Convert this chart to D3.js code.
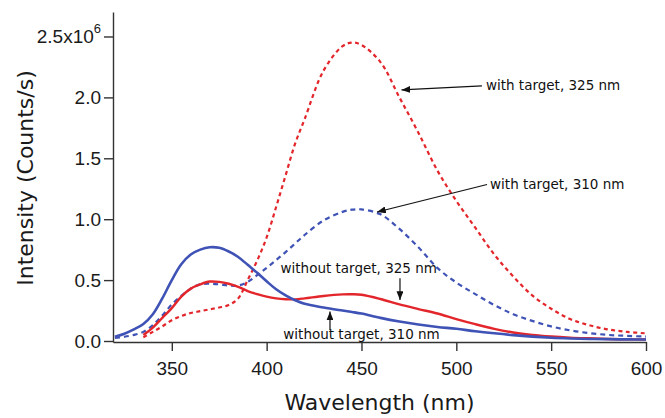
<!DOCTYPE html>
<html>
<head>
<meta charset="utf-8">
<script src="https://cdn.jsdelivr.net/npm/d3@7"></script>
<style>
  body { margin: 0; background: #fff; }
  svg { display: block; font-family: "DejaVu Sans", sans-serif; }
</style>
</head>
<body>
<script>
// wavelength grid (nm) shared by all four spectra
let wavelengths = [320, 325, 330, 335, 340, 345, 350, 355, 360, 365, 370, 375, 380, 385, 390, 395, 400, 405, 410, 415, 420, 430, 440, 445, 450, 460, 470, 480, 490, 500, 510, 520, 530, 540, 550, 560, 570, 580, 590, 600];

// intensities in units of 1e6 counts/s, null where the scan does not cover
let noTarget310 = [0.035, 0.06, 0.095, 0.14, 0.22, 0.35, 0.5, 0.63, 0.71, 0.75, 0.77, 0.765, 0.735, 0.69, 0.625, 0.56, 0.49, 0.425, 0.375, 0.335, 0.305, 0.275, 0.25, 0.238, 0.225, 0.19, 0.16, 0.135, 0.115, 0.1, 0.08, 0.063, 0.048, 0.036, 0.027, 0.021, 0.017, 0.015, 0.013, 0.012];
let withTarget310 = [0.025, 0.035, 0.05, 0.075, 0.13, 0.21, 0.3, 0.37, 0.43, 0.465, 0.47, 0.465, 0.455, 0.455, 0.485, 0.54, 0.6, 0.665, 0.73, 0.8, 0.87, 0.99, 1.06, 1.078, 1.08, 1.04, 0.92, 0.77, 0.6, 0.48, 0.385, 0.295, 0.22, 0.165, 0.12, 0.087, 0.065, 0.05, 0.042, 0.036];
let noTarget325 = [null, null, null, 0.05, 0.11, 0.19, 0.27, 0.365, 0.43, 0.465, 0.488, 0.485, 0.47, 0.445, 0.41, 0.385, 0.364, 0.35, 0.343, 0.342, 0.35, 0.37, 0.383, 0.384, 0.38, 0.345, 0.3, 0.262, 0.226, 0.18, 0.138, 0.1, 0.07, 0.05, 0.037, 0.028, 0.022, 0.017, 0.014, 0.012];
let withTarget325 = [null, null, null, 0.03, 0.075, 0.12, 0.17, 0.205, 0.23, 0.245, 0.26, 0.275, 0.295, 0.35, 0.5, 0.66, 0.85, 1.1, 1.36, 1.62, 1.82, 2.22, 2.42, 2.45, 2.43, 2.29, 2.0, 1.71, 1.4, 1.15, 0.93, 0.71, 0.53, 0.375, 0.265, 0.18, 0.13, 0.095, 0.075, 0.063];

let xTicks = [350, 400, 450, 500, 550, 600];
let yTicks = [0, 0.5, 1.0, 1.5, 2.0, 2.5];

// annotation texts, anchored in data units (nm, 1e6 counts/s)
let labels = ["with target, 325 nm", "with target, 310 nm", "without target, 325 nm", "without target, 310 nm"];
let labelAt = [[515.6, 2.06], [517.8, 1.25], [407.3, 0.56], [408.8, 0.016]];
let arrowFrom = [[513.5, 2.094], [516.2, 1.285], [470.3, 0.515], [433.4, 0.09]];
let arrowTo = [[471.1, 2.061], [458.2, 1.059], [470.3, 0.337], [433.4, 0.242]];

function main() {
    let svg = d3.select("body").append("svg")
        .attr("width", 665)
        .attr("height", 418);

    let x = d3.scaleLinear().domain([319, 600]).range([113, 646]);
    let y = d3.scaleLinear().domain([-0.0082, 2.701]).range([342, 12]);

    svg.append("defs").append("marker")
        .attr("id", "head")
        .attr("viewBox", "0 -4 10 8")
        .attr("refX", 10)
        .attr("refY", 0)
        .attr("markerUnits", "userSpaceOnUse")
        .attr("markerWidth", 9)
        .attr("markerHeight", 7)
        .attr("orient", "auto")
        .append("path")
        .attr("d", "M0,-4L10,0L0,4Z")
        .attr("fill", "#111");

    // axes
    let xAxis = d3.axisBottom(x).tickValues(xTicks).tickSize(9).tickSizeOuter(0).tickPadding(11).tickFormat(d3.format("d"));
    let gx = svg.append("g").attr("transform", "translate(0,342)").call(xAxis);
    gx.selectAll("text").style("font-size", "19px").attr("fill", "#1a1a1a");

    let yAxis = d3.axisLeft(y).tickValues(yTicks).tickSize(9).tickSizeOuter(0).tickPadding(3)
        .tickFormat(d => d === 2.5 ? "2.5x10" : d.toFixed(1));
    let gy = svg.append("g").attr("transform", "translate(113,0)").call(yAxis);
    gy.selectAll("text").style("font-size", "19px").attr("fill", "#1a1a1a");
    gy.selectAll(".tick text").filter(d => d === 2.5)
        .append("tspan").attr("dy", "-0.8em").style("font-size", "13px").text("6");

    svg.selectAll(".domain, .tick line").attr("stroke", "#333").attr("stroke-width", 1.4);

    // axis titles
    svg.append("text")
        .attr("x", (x.range()[0] + x.range()[1]) / 2)
        .attr("y", 410)
        .attr("text-anchor", "middle")
        .style("font-size", "22px")
        .attr("fill", "#1a1a1a")
        .text("Wavelength (nm)");

    svg.append("text")
        .attr("transform", "translate(33,178) rotate(-90)")
        .attr("text-anchor", "middle")
        .style("font-size", "22px")
        .attr("fill", "#1a1a1a")
        .text("Intensity (Counts/s)");

    // spectra
    let series = [
        {values: withTarget325, color: "#e3262b", dash: "4,3.4", width: 2.2},
        {values: withTarget310, color: "#3f52b5", dash: "5,4", width: 2.2},
        {values: noTarget325, color: "#e3262b", dash: null, width: 2.4},
        {values: noTarget310, color: "#3f52b5", dash: null, width: 2.6}
    ];

    let line = d3.line()
        .defined(d => d[1] !== null)
        .x(d => x(d[0]))
        .y(d => y(d[1]))
        .curve(d3.curveCatmullRom.alpha(0.5));

    svg.selectAll("path.spectrum")
        .data(series)
        .enter()
        .append("path")
        .attr("class", "spectrum")
        .attr("d", s => line(wavelengths.map((w, i) => [w, s.values[i]])))
        .attr("fill", "none")
        .attr("stroke", s => s.color)
        .attr("stroke-width", s => s.width)
        .attr("stroke-dasharray", s => s.dash);

    // annotations
    svg.selectAll("line.arrow")
        .data(labels)
        .enter()
        .append("line")
        .attr("class", "arrow")
        .attr("x1", (d, i) => x(arrowFrom[i][0]))
        .attr("y1", (d, i) => y(arrowFrom[i][1]))
        .attr("x2", (d, i) => x(arrowTo[i][0]))
        .attr("y2", (d, i) => y(arrowTo[i][1]))
        .attr("stroke", "#111")
        .attr("stroke-width", 1.2)
        .attr("marker-end", "url(#head)");

    svg.selectAll("text.note")
        .data(labels)
        .enter()
        .append("text")
        .attr("class", "note")
        .attr("x", (d, i) => x(labelAt[i][0]))
        .attr("y", (d, i) => y(labelAt[i][1]))
        .style("font-size", "13.5px")
        .attr("fill", "#111")
        .text(d => d);
}

main()
</script>
</body>
</html>
